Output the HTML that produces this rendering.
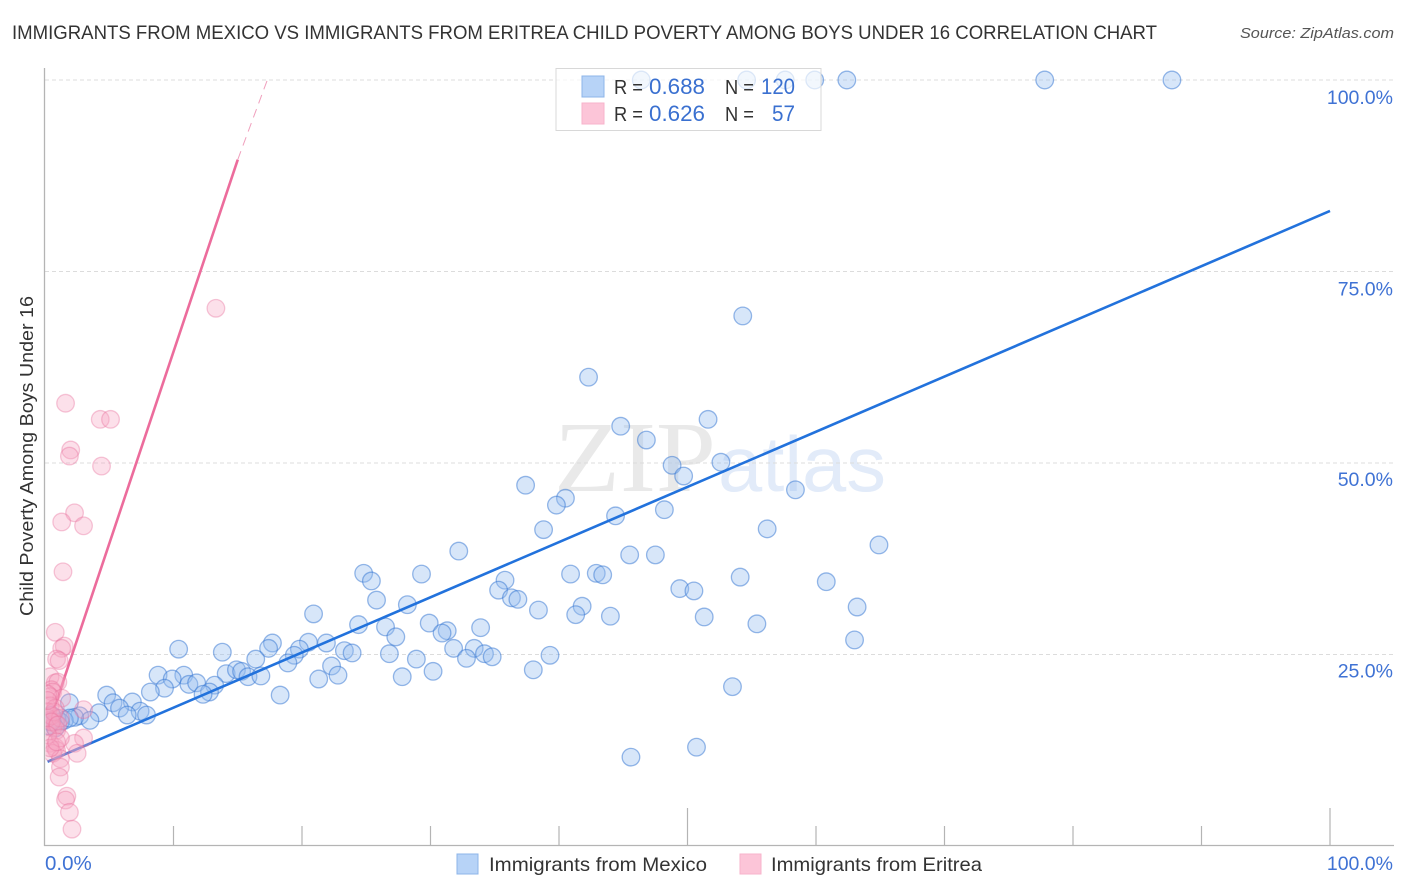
<!DOCTYPE html>
<html lang="en">
<head>
<meta charset="utf-8">
<title>Immigrants from Mexico vs Immigrants from Eritrea Child Poverty Correlation Chart</title>
<style>
html,body{margin:0;padding:0;background:#fff;width:1406px;height:892px;overflow:hidden}
svg{display:block}
text{font-family:"Liberation Sans",sans-serif}
</style>
</head>
<body>
<svg id="chart" xmlns="http://www.w3.org/2000/svg" width="1406" height="892" viewBox="0 0 1406 892">
  <defs><clipPath id="plot-clip"><rect x="45.5" y="60" width="1360" height="786"/></clipPath></defs>
  <text x="12" y="39" font-size="19.5" fill="#333" textLength="1145" lengthAdjust="spacingAndGlyphs">IMMIGRANTS FROM MEXICO VS IMMIGRANTS FROM ERITREA CHILD POVERTY AMONG BOYS UNDER 16 CORRELATION CHART</text>
  <text x="1394" y="38" font-size="15" font-style="italic" fill="#555" text-anchor="end" textLength="154" lengthAdjust="spacingAndGlyphs">Source: ZipAtlas.com</text>
  <g id="watermark">
    <text x="554" y="491" font-size="101" fill="#e9e9e9" textLength="162" lengthAdjust="spacingAndGlyphs" style="font-family:'Liberation Serif',serif">ZIP</text>
    <text x="718" y="491" font-size="78" fill="#e2ebf9" textLength="168" lengthAdjust="spacingAndGlyphs">atlas</text>
  </g>
  <g id="grid"></g>
  <g id="axes"></g>
  <g id="blue-points" clip-path="url(#plot-clip)"></g>
  <g id="lines"></g>
  <g id="pink-points" clip-path="url(#plot-clip)"></g>
  <g id="y-labels"></g>
  <g id="x-labels"></g>
  <text transform="translate(33,456) rotate(-90)" font-size="18" fill="#333" text-anchor="middle" textLength="320" lengthAdjust="spacingAndGlyphs">Child Poverty Among Boys Under 16</text>

  <g>
    <rect x="556" y="68.5" width="265" height="62" fill="#fff" fill-opacity="0.68" stroke="#d8d8d8" stroke-width="1"/>
    <rect x="582" y="76" width="22" height="21" fill="#b7d3f7" stroke="#8db4e8" stroke-width="1"/>
    <rect x="582" y="103" width="22" height="21" fill="#fcc5d8" stroke="#f7b3cb" stroke-width="1"/>
    <text x="614" y="94" font-size="20" fill="#333" textLength="29" lengthAdjust="spacingAndGlyphs">R =</text>
    <text x="649" y="94" font-size="22" fill="#3a70d0" textLength="56" lengthAdjust="spacingAndGlyphs">0.688</text>
    <text x="725" y="94" font-size="20" fill="#333" textLength="29" lengthAdjust="spacingAndGlyphs">N =</text>
    <text x="761" y="94" font-size="22" fill="#3a70d0" textLength="34" lengthAdjust="spacingAndGlyphs">120</text>
    <text x="614" y="121" font-size="20" fill="#333" textLength="29" lengthAdjust="spacingAndGlyphs">R =</text>
    <text x="649" y="121" font-size="22" fill="#3a70d0" textLength="56" lengthAdjust="spacingAndGlyphs">0.626</text>
    <text x="725" y="121" font-size="20" fill="#333" textLength="29" lengthAdjust="spacingAndGlyphs">N =</text>
    <text x="772" y="121" font-size="22" fill="#3a70d0" textLength="23" lengthAdjust="spacingAndGlyphs">57</text>
  </g>

  <g>
    <rect x="457" y="854" width="21" height="20" fill="#b7d3f7" stroke="#8db4e8" stroke-width="1"/>
    <text x="489" y="871" font-size="19.5" fill="#333" textLength="218" lengthAdjust="spacingAndGlyphs">Immigrants from Mexico</text>
    <rect x="740" y="854" width="21" height="20" fill="#fcc5d8" stroke="#f7b3cb" stroke-width="1"/>
    <text x="771" y="871" font-size="19.5" fill="#333" textLength="211" lengthAdjust="spacingAndGlyphs">Immigrants from Eritrea</text>
  </g>
</svg>
<script>
const xTickValues = [10,20,30,40,50,60,70,80,90,100];
const yGridValues = [100,75,50,25];
const yTickLabels = ["100.0%","75.0%","50.0%","25.0%"];
const yLabelValues = [97.8,72.8,47.9,22.9];
const xEndLabels = ["0.0%","100.0%"];
const xEndValues = [0,100];

const mexicoX = [46.4,54.6,57.6,59.9,62.4,77.8,87.7,54.3,42.3,51.6,44.8,46.8,48.8,52.6,49.7,37.4,58.4,40.5,39.8,48.2,44.4,38.8,56.2,64.9,32.2,45.5,47.5,24.8,29.3,40.9,42.9,43.4,54.1,25.4,35.8,60.8,49.4,50.5,35.3,36.3,36.8,25.8,28.2,63.2,38.4,41.8,41.3,20.9,44.0,51.3,29.9,24.4,26.5,33.9,55.4,31.3,30.9,27.3,63.0,21.9,20.5,33.4,10.4,17.7,17.4,31.8,19.8,23.3,23.9,13.8,26.8,19.4,34.2,34.8,39.3,32.8,28.9,16.4,18.9,22.3,38.0,30.2,14.1,14.9,15.3,15.8,16.8,27.8,21.3,22.8,8.8,10.8,9.9,11.2,11.8,13.2,53.5,4.8,9.3,8.2,18.3,12.8,12.3,1.9,5.3,6.8,5.8,7.4,6.4,7.9,4.2,2.7,3.5,2.3,1.5,0.9,1.2,0.5,50.7,45.6,0.4,0.2,0.8,1.9];
const mexicoY = [100,100,100,100,100,100,100,69.2,61.2,55.7,54.8,53.0,49.7,50.1,48.3,47.1,46.5,45.4,44.5,43.9,43.1,41.3,41.4,39.3,38.5,38.0,38.0,35.6,35.5,35.5,35.6,35.4,35.1,34.6,34.7,34.5,33.6,33.3,33.4,32.4,32.2,32.1,31.5,31.2,30.8,31.3,30.2,30.3,30.0,29.9,29.1,28.9,28.6,28.5,29.0,28.1,27.8,27.3,26.9,26.5,26.6,25.8,25.7,26.5,25.8,25.8,25.7,25.5,25.2,25.3,25.1,24.9,25.1,24.7,24.9,24.5,24.4,24.4,23.9,23.5,23.0,22.8,22.5,23.0,22.8,22.1,22.2,22.1,21.8,22.3,22.3,22.3,21.8,21.1,21.3,21.0,20.8,19.7,20.6,20.1,19.7,20.1,19.8,18.7,18.7,18.8,18.0,17.6,17.1,17.1,17.4,17.0,16.4,16.8,16.4,16.7,16.2,17.1,12.9,11.6,16.2,15.7,15.4,16.7];

const eritreaX = [13.3,1.6,4.3,5.1,2.0,1.9,4.4,2.3,1.3,3.0,1.4,0.8,1.5,1.3,0.9,1.1,0.4,0.8,1.0,0.5,0.6,1.3,0.4,0.2,3.0,0.4,0.8,0.2,0.8,0.4,0.6,0.9,0.2,0.5,1.2,0.7,0.5,1.0,3.0,2.3,2.5,0.4,0.8,0.9,0.6,1.2,1.2,1.2,1.1,1.7,1.6,1.9,2.1,0.2,0.2,0.4,0.9];
const eritreaY = [70.2,57.8,55.7,55.7,51.7,50.9,49.6,43.5,42.3,41.8,35.8,27.9,26.1,25.8,24.4,24.2,22.1,21.3,21.4,20.4,20.1,19.3,19.5,19.8,17.8,18.3,18.0,17.5,16.1,16.4,15.4,15.1,16.7,17.0,16.7,17.5,16.2,15.8,14.1,13.4,12.1,13.4,12.9,12.5,12.1,14.1,11.4,10.3,9.0,6.5,6.0,4.4,2.2,19.0,14.5,12.8,13.6];

const mexicoTrendX = [0.2,100];
const mexicoTrendY = [11.0,82.9];
const eritreaSolidX = [0.2,15.0];
const eritreaSolidY = [15.4,89.6];
const eritreaDashX = [15.0,17.3];
const eritreaDashY = [89.6,100];

const NS = 'http://www.w3.org/2000/svg';
function sx(v){ return 45 + v * 12.85; }
function sy(v){ return 846 - v * 7.66; }
function mk(tag, parent, attrs){
  const el = document.createElementNS(NS, tag);
  for (const k in attrs) el.setAttribute(k, attrs[k]);
  parent.appendChild(el);
  return el;
}
const grid = document.getElementById('grid');
const axes = document.getElementById('axes');

yGridValues.forEach(function(v){
  const g = mk('line', grid, {x1:45, x2:1394, y1:sy(v), y2:sy(v), stroke:'#dcdcdc', 'stroke-width':1, 'stroke-dasharray':'4 3'});
  
  
});

const yAxis = mk('line', axes, {x1:44.5, x2:44.5, y1:68, y2:846, stroke:'#b4b4b4', 'stroke-width':1.3});


const xAxis = mk('line', axes, {x1:44, x2:1394, y1:845.5, y2:845.5, stroke:'#b4b4b4', 'stroke-width':1.3});



xTickValues.forEach(function(v){
  const top = (v === 50 || v === 100) ? 808 : 826;
  const t = mk('line', axes, {x1:sx(v), x2:sx(v), y1:top, y2:846, stroke:'#b4b4b4', 'stroke-width':1.2});
  
  
});

function drawPoints(groupId, xs, ys, fill, stroke, name){
  const group = document.getElementById(groupId);
  xs.forEach(function(x, i){
    const c = mk('circle', group, {cx:sx(x), cy:sy(ys[i]), r:8.8, fill:fill, stroke:stroke, 'stroke-width':1.3});
    
    
  });
}
drawPoints('blue-points', mexicoX, mexicoY, 'rgba(150,190,240,0.38)', 'rgba(50,115,210,0.5)', 'mexico-point');
drawPoints('pink-points', eritreaX, eritreaY, 'rgba(246,165,192,0.34)', 'rgba(232,110,155,0.38)', 'eritrea-point');

const lines = document.getElementById('lines');
const blueLine = mk('line', lines, {x1:sx(mexicoTrendX[0]), y1:sy(mexicoTrendY[0]), x2:sx(mexicoTrendX[1]), y2:sy(mexicoTrendY[1]), stroke:'#2272dc', 'stroke-width':2.6});


const pinkLine = mk('line', lines, {x1:sx(eritreaSolidX[0]), y1:sy(eritreaSolidY[0]), x2:sx(eritreaSolidX[1]), y2:sy(eritreaSolidY[1]), stroke:'#ec6c9c', 'stroke-width':2.6});


const pinkDash = mk('line', lines, {x1:sx(eritreaDashX[0]), y1:sy(eritreaDashY[0]), x2:sx(eritreaDashX[1]), y2:sy(eritreaDashY[1]), stroke:'#f0a0bd', 'stroke-width':1, 'stroke-dasharray':'9 6'});



const yLabels = document.getElementById('y-labels');
yTickLabels.forEach(function(s, i){
  const t = mk('text', yLabels, {x:1393, y:sy(yLabelValues[i]) + 7, 'font-size':19.5, fill:'#3f72d4', 'text-anchor':'end'});
  t.textContent = s;
  
  
});
const xLabels = document.getElementById('x-labels');
xEndLabels.forEach(function(s, i){
  const anchor = i === 0 ? 'start' : 'end';
  const px = i === 0 ? sx(xEndValues[i]) : 1393;
  const t = mk('text', xLabels, {x:px, y:870, 'font-size':i === 0 ? 20.5 : 19.5, fill:'#3f72d4', 'text-anchor':anchor});
  t.textContent = s;
  
  
});
</script>
</body>
</html>
